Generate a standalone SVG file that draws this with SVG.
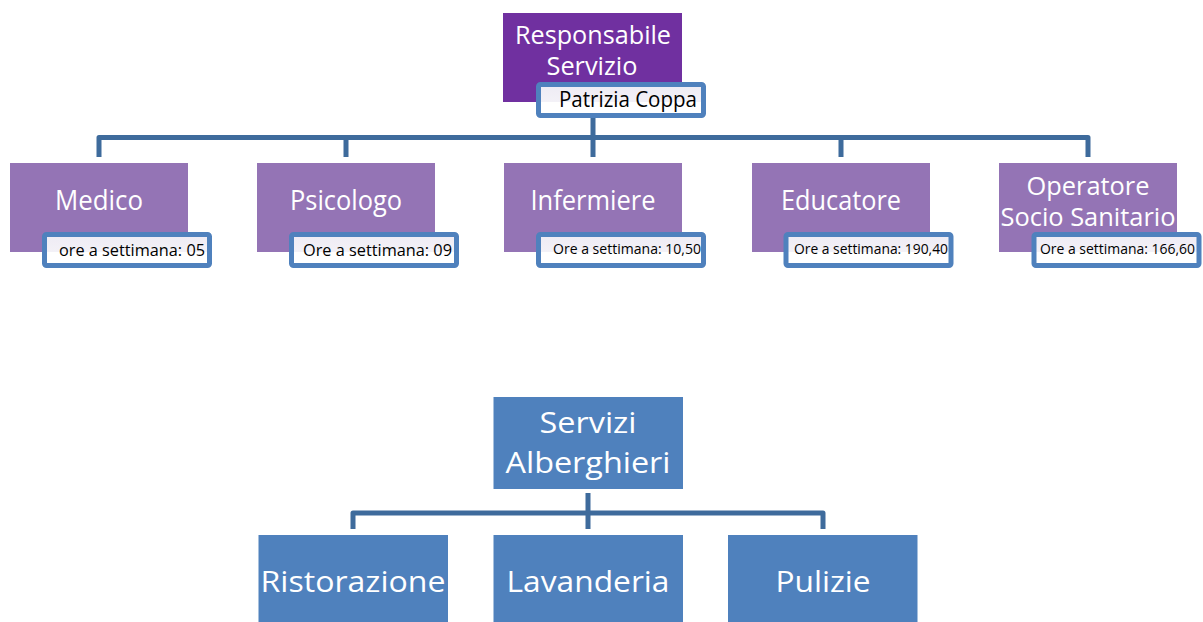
<svg xmlns="http://www.w3.org/2000/svg" width="1203" height="622" viewBox="0 0 1203 622">
<defs>
<linearGradient id="lg" x1="0" y1="0" x2="0" y2="1">
<stop offset="0" stop-color="#EEEBF4"/>
<stop offset="0.55" stop-color="#F3F1F7"/>
<stop offset="0.56" stop-color="#FFFFFF"/>
<stop offset="1" stop-color="#FFFFFF"/>
</linearGradient>
</defs>
<style>
text{font-family:"Open Sans","Noto Sans","Liberation Sans",sans-serif}
.top{fill:#7030A0}
.mid{fill:#9474B5}
.blu{fill:#4F81BD}
.lab{fill:url(#lg);stroke:#4F81BD;stroke-width:5}
.wt{fill:#FFFFFF;text-anchor:middle}
.bk{fill:#000000}
.con{fill:none;stroke:#3E6B9C;stroke-width:5;stroke-linejoin:round}
</style>
<rect width="1203" height="622" fill="#FFFFFF"/>
<g id="connectors">
<path class="con" d="M593 112V157M99 157V137.5H1088V157M346 137.5V157M841 137.5V157"/>
<path class="con" d="M588 493V529M353 529V513H823V529"/>
</g>
<g id="responsabile">
<rect class="top" x="503" y="13" width="179" height="89"/>
<text class="wt" x="593" y="44" font-size="25" textLength="156" lengthAdjust="spacingAndGlyphs">Responsabile</text>
<text class="wt" x="592" y="75" font-size="25" textLength="91" lengthAdjust="spacingAndGlyphs">Servizio</text>
<rect class="lab" x="538.5" y="84.5" width="165" height="31" rx="2"/>
<text class="bk" x="559" y="107" font-size="21" textLength="138" lengthAdjust="spacingAndGlyphs">Patrizia Coppa</text>
</g>
<g id="medico">
<rect class="mid" x="10" y="163" width="178" height="89"/>
<text class="wt" x="99" y="210" font-size="27" textLength="88" lengthAdjust="spacingAndGlyphs">Medico</text>
<rect class="lab" x="44.5" y="234.5" width="165" height="31" rx="2"/>
<text class="bk" x="59" y="256" font-size="17" textLength="146" lengthAdjust="spacingAndGlyphs">ore a settimana: 05</text>
</g>
<g id="psicologo">
<rect class="mid" x="257" y="163" width="178" height="89"/>
<text class="wt" x="346" y="210" font-size="27" textLength="112" lengthAdjust="spacingAndGlyphs">Psicologo</text>
<rect class="lab" x="291.5" y="234.5" width="165" height="31" rx="2"/>
<text class="bk" x="303" y="256" font-size="17" textLength="149" lengthAdjust="spacingAndGlyphs">Ore a settimana: 09</text>
</g>
<g id="infermiere">
<rect class="mid" x="504" y="163" width="178" height="89"/>
<text class="wt" x="593" y="210" font-size="27" textLength="125" lengthAdjust="spacingAndGlyphs">Infermiere</text>
<rect class="lab" x="538.5" y="234.5" width="165" height="31" rx="2"/>
<text class="bk" x="553" y="254" font-size="14" textLength="148" lengthAdjust="spacingAndGlyphs">Ore a settimana: 10,50</text>
</g>
<g id="educatore">
<rect class="mid" x="752" y="163" width="178" height="89"/>
<text class="wt" x="841" y="210" font-size="27" textLength="120" lengthAdjust="spacingAndGlyphs">Educatore</text>
<rect class="lab" x="786" y="234.5" width="165" height="31" rx="2"/>
<text class="bk" x="794" y="254" font-size="14" textLength="154" lengthAdjust="spacingAndGlyphs">Ore a settimana: 190,40</text>
</g>
<g id="operatore">
<rect class="mid" x="999" y="163" width="178" height="89"/>
<text class="wt" x="1088" y="195" font-size="25" textLength="123" lengthAdjust="spacingAndGlyphs">Operatore</text>
<text class="wt" x="1088" y="226" font-size="25" textLength="175" lengthAdjust="spacingAndGlyphs">Socio Sanitario</text>
<rect class="lab" x="1034" y="234.5" width="165" height="31" rx="2"/>
<text class="bk" x="1040" y="254" font-size="14" textLength="155" lengthAdjust="spacingAndGlyphs">Ore a settimana: 166,60</text>
</g>
<g id="servizi-alberghieri">
<rect class="blu" x="493.5" y="397" width="189.5" height="92"/>
<text class="wt" x="588" y="433" font-size="30" textLength="97" lengthAdjust="spacingAndGlyphs">Servizi</text>
<text class="wt" x="588" y="473" font-size="30" textLength="165" lengthAdjust="spacingAndGlyphs">Alberghieri</text>
</g>
<g id="ristorazione">
<rect class="blu" x="258.5" y="535" width="189.5" height="87"/>
<text class="wt" x="353" y="592" font-size="30" textLength="185" lengthAdjust="spacingAndGlyphs">Ristorazione</text>
</g>
<g id="lavanderia">
<rect class="blu" x="493.5" y="535" width="189.5" height="87"/>
<text class="wt" x="588" y="592" font-size="30" textLength="163" lengthAdjust="spacingAndGlyphs">Lavanderia</text>
</g>
<g id="pulizie">
<rect class="blu" x="728" y="535" width="189.5" height="87"/>
<text class="wt" x="823" y="592" font-size="30" textLength="95" lengthAdjust="spacingAndGlyphs">Pulizie</text>
</g>
</svg>
